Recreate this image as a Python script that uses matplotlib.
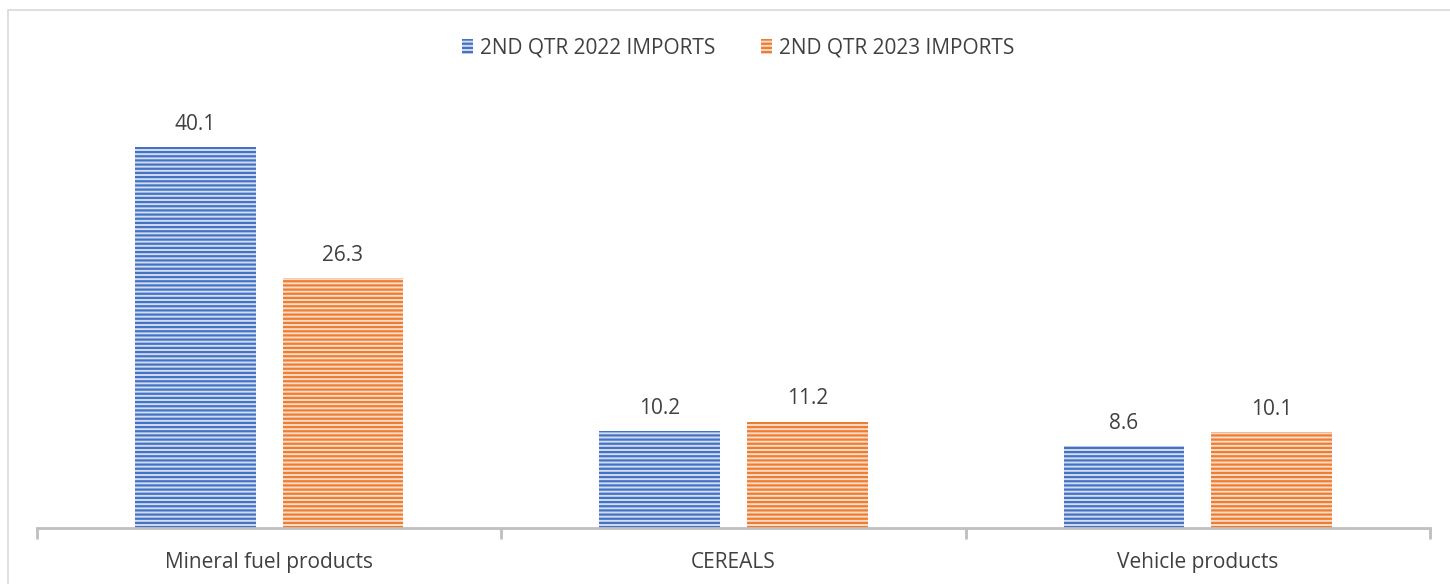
import matplotlib.pyplot as plt
import numpy as np
from matplotlib.patches import Rectangle

categories = ["Mineral fuel products", "CEREALS", "Vehicle products"]
series_names = ["2ND QTR 2022 IMPORTS", "2ND QTR 2023 IMPORTS"]
imports_2022 = [40.1, 10.2, 8.6]
imports_2023 = [26.3, 11.2, 10.1]

blue = "#4472c4"
orange = "#ed7d31"
text_col = "#404040"
plt.rcParams['font.family'] = ['Open Sans', 'DejaVu Sans']
plt.rcParams['hatch.linewidth'] = 1.6

fig = plt.figure(figsize=(14.5, 5.84), dpi=100)
ax = fig.add_axes([37 / 1450, 1 - 528 / 584, (1430 - 37) / 1450, 427.5 / 584])

# chart border
fig.patches.append(Rectangle((8 / 1450, -0.01), 1.02, 1 - 10 / 584 + 0.01,
                             transform=fig.transFigure, fill=False,
                             edgecolor="#d9d9d9", linewidth=1.2))

x = np.arange(len(categories))
w = 0.26
off = 0.159
bars1 = ax.bar(x - off, imports_2022, w, color="#d3ddf0", edgecolor=blue,
               hatch="----", linewidth=0, label=series_names[0])
bars2 = ax.bar(x + off, imports_2023, w, color="#fbdcc8", edgecolor=orange,
               hatch="----", linewidth=0, label=series_names[1])

for bars in (bars1, bars2):
    for b in bars:
        ax.annotate(f"{b.get_height():.1f}", (b.get_x() + b.get_width() / 2, b.get_height()),
                    xytext=(0, 9), textcoords="offset points", ha="center", va="bottom",
                    fontsize=15, color=text_col)

ax.set_xlim(-0.5, 2.5)
ax.set_ylim(0, 45)
ax.set_yticks([])
for s in ["top", "right", "left"]:
    ax.spines[s].set_visible(False)
ax.spines["bottom"].set_color("#bfbfbf")
ax.spines["bottom"].set_linewidth(2)

ax.set_xticks([-0.5, 0.5, 1.5, 2.5])
ax.set_xticklabels([])
ax.tick_params(axis="x", length=8, width=2, color="#bfbfbf")
ax.set_xticks(x, minor=True)
ax.set_xticklabels(categories, minor=True, fontsize=15, color=text_col)
ax.tick_params(axis="x", which="minor", length=0, pad=17)

leg = fig.legend(handles=[bars1, bars2], labels=series_names, loc="center",
                 bbox_to_anchor=(738 / 1450, 1 - 48 / 584), ncol=2, frameon=False,
                 fontsize=15, handlelength=0.55, handleheight=0.75,
                 handletextpad=0.3, columnspacing=2.2, labelcolor=text_col)

fig.savefig("out.png", dpi=100)
